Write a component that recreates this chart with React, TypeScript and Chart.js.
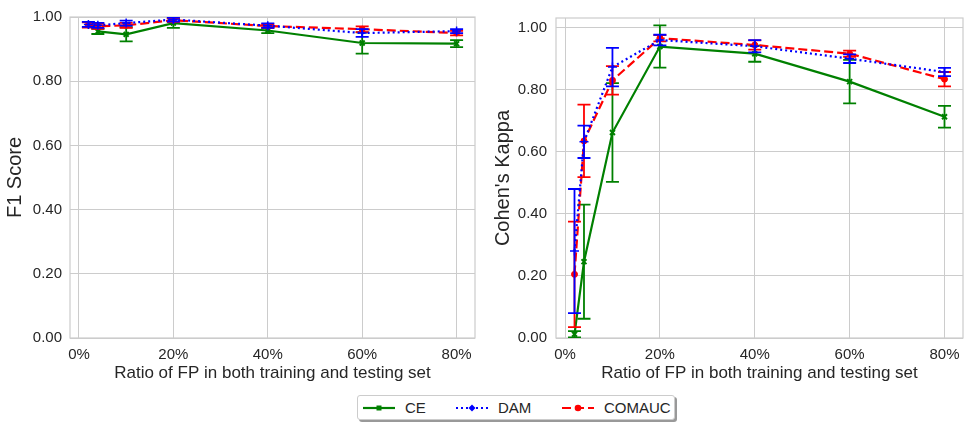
import React, { useEffect, useRef } from 'react';
import { Chart, registerables } from 'chart.js';

Chart.register(...registerables);

// ---------- data ----------
const ratioF1 = [2, 4, 10, 20, 40, 60, 80];
const f1CE = [null, 0.955, 0.946, 0.981, 0.958, 0.919, 0.917];
const f1CEErr = [null, 0.008, 0.022, 0.015, 0.008, 0.033, 0.011];
const f1DAM = [0.977, 0.974, 0.981, 0.992, 0.973, 0.95, 0.956];
const f1DAMErr = [0.008, 0.008, 0.008, 0.006, 0.007, 0.012, 0.006];
const f1COMAUC = [0.975, 0.971, 0.974, 0.99, 0.972, 0.962, 0.95];
const f1COMAUCErr = [0.008, 0.008, 0.008, 0.006, 0.006, 0.009, 0.007];

const ratioKappa = [2, 4, 10, 20, 40, 60, 80];
const kCE = [0.012, 0.246, 0.662, 0.939, 0.916, 0.826, 0.713];
const kCEErr = [0.01, 0.184, 0.159, 0.068, 0.026, 0.07, 0.035];
const kDAM = [0.28, 0.632, 0.873, 0.96, 0.94, 0.9, 0.857];
const kDAMErr = [0.2, 0.052, 0.062, 0.017, 0.02, 0.014, 0.013];
const kCOMAUC = [0.205, 0.635, 0.83, 0.966, 0.944, 0.916, 0.834];
const kCOMAUCErr = [0.17, 0.117, 0.046, 0.01, 0.015, 0.01, 0.023];

const xTicks = [0, 20, 40, 60, 80];
const yTicks = [0, 0.2, 0.4, 0.6, 0.8, 1.0];
const seriesNames = ['CE', 'DAM', 'COMAUC'];

const FONT = "'Liberation Sans', Arial, sans-serif";
const TEXT = '#262626';
const GRID = '#cccccc';
const GREEN = '#008000';
const BLUE = '#0000ff';
const RED = '#ff0000';

const errorBarPlugin = {
  id: 'errorBars',
  beforeDatasetDraw(chart: any, args: any) {
    const ds: any = chart.data.datasets[args.index];
    const errs = ds.errors;
    if (!errs) return;
    const xs = chart.scales.x;
    const ys = chart.scales.y;
    const ctx = chart.ctx;
    const a = chart.chartArea;
    ctx.save();
    ctx.beginPath();
    ctx.rect(a.left, a.top, a.right - a.left, a.bottom - a.top);
    ctx.clip();
    ctx.strokeStyle = ds.borderColor;
    ctx.lineWidth = 1.8;
    ctx.setLineDash([]);
    ds.data.forEach((p: any, i: number) => {
      if (p.y == null || errs[i] == null) return;
      const px = xs.getPixelForValue(p.x);
      const top = ys.getPixelForValue(p.y + errs[i]);
      const bot = ys.getPixelForValue(p.y - errs[i]);
      ctx.beginPath();
      ctx.moveTo(px, top);
      ctx.lineTo(px, bot);
      ctx.moveTo(px - 6.5, top);
      ctx.lineTo(px + 6.5, top);
      ctx.moveTo(px - 6.5, bot);
      ctx.lineTo(px + 6.5, bot);
      ctx.stroke();
    });
    ctx.restore();
  },
};

const framePlugin = {
  id: 'frame',
  beforeDatasetsDraw(chart: any) {
    const a = chart.chartArea;
    const ctx = chart.ctx;
    ctx.save();
    ctx.strokeStyle = GRID;
    ctx.lineWidth = 1.2;
    ctx.strokeRect(a.left, a.top, a.right - a.left, a.bottom - a.top);
    ctx.restore();
  },
};

function toPoints(xs: number[], ys: (number | null)[]) {
  return xs.map((x, i) => ({ x, y: ys[i] }));
}

function makeDatasets(xs: number[], ce: any[], ceE: any[], dam: any[], damE: any[], com: any[], comE: any[]) {
  return [
    {
      label: seriesNames[1],
      data: toPoints(xs, dam),
      errors: damE,
      borderColor: BLUE,
      backgroundColor: BLUE,
      borderWidth: 2.2,
      borderDash: [2, 3],
      pointStyle: 'cross',
      pointRadius: 4.5,
      pointBorderWidth: 1.5,
      pointBackgroundColor: BLUE,
      pointBorderColor: BLUE,
      order: 0,
    },
    {
      label: seriesNames[2],
      data: toPoints(xs, com),
      errors: comE,
      borderColor: RED,
      backgroundColor: RED,
      borderWidth: 2.2,
      borderDash: [9, 4],
      pointStyle: 'circle',
      pointRadius: 3,
      pointBorderWidth: 1,
      pointBackgroundColor: RED,
      pointBorderColor: RED,
      order: 1,
    },
    {
      label: seriesNames[0],
      data: toPoints(xs, ce),
      errors: ceE,
      borderColor: GREEN,
      backgroundColor: GREEN,
      borderWidth: 2.2,
      borderDash: [],
      pointStyle: 'crossRot',
      pointRadius: 3.5,
      pointBorderWidth: 2,
      pointBackgroundColor: GREEN,
      pointBorderColor: GREEN,
      order: 2,
    },
  ];
}

function makeConfig(datasets: any[], yTitle: string, yMax: number, yAxisWidth: number, titlePad: number, tickPad: number, padRight: number) {
  return {
    type: 'line',
    data: { datasets },
    plugins: [framePlugin, errorBarPlugin],
    options: {
      animation: false,
      responsive: false,
      devicePixelRatio: 1,
      layout: { padding: { top: 13, right: padRight, left: 0, bottom: 0 } },
      plugins: { legend: { display: false }, tooltip: { enabled: false } },
      elements: { line: { tension: 0, fill: false } },
      scales: {
        x: {
          type: 'linear',
          min: -1.9,
          max: 83.9,
          afterBuildTicks: (s: any) => {
            s.ticks = xTicks.map((v) => ({ value: v }));
          },
          afterFit: (s: any) => {
            s.height = 47;
          },
          grid: { color: GRID, lineWidth: 1, drawTicks: false },
          border: { display: false },
          ticks: {
            color: TEXT,
            padding: 8,
            font: { family: FONT, size: 15 },
            callback: (v: any) => `${v}%`,
            maxRotation: 0,
          },
          title: {
            display: true,
            text: 'Ratio of FP in both training and testing set',
            color: TEXT,
            font: { family: FONT, size: 17 },
            padding: { top: 0, bottom: 1 },
          },
        },
        y: {
          type: 'linear',
          min: 0,
          max: yMax,
          afterBuildTicks: (s: any) => {
            s.ticks = yTicks.map((v) => ({ value: v }));
          },
          afterFit: (s: any) => {
            s.width = yAxisWidth;
          },
          grid: { color: GRID, lineWidth: 1, drawTicks: false },
          border: { display: false },
          ticks: {
            color: TEXT,
            padding: tickPad,
            font: { family: FONT, size: 15 },
            callback: (v: any) => Number(v).toFixed(2),
          },
          title: {
            display: true,
            text: yTitle,
            color: TEXT,
            font: { family: FONT, size: 20 },
            padding: { top: titlePad, bottom: 0 },
          },
        },
      },
    },
  };
}

function ChartCanvas({ config, width, height, left }: any) {
  const ref = useRef<HTMLCanvasElement | null>(null);
  useEffect(() => {
    if (!ref.current) return;
    const chart = new Chart(ref.current, config as any);
    return () => chart.destroy();
  }, []);
  return (
    <canvas
      ref={ref}
      width={width}
      height={height}
      style={{ position: 'absolute', left, top: 0, width, height }}
    />
  );
}

function LegendSample({ color, dash, marker }: { color: string; dash: string; marker: string }) {
  return (
    <svg width={32} height={12} style={{ display: 'block' }}>
      <line x1={0} y1={6} x2={32} y2={6} stroke={color} strokeWidth={2.2} strokeDasharray={dash} />
      {marker === 'x' && <rect x={13.5} y={3.5} width={5} height={5} fill={color} />}
      {marker === '+' && <polygon points="16,2.5 19.5,6 16,9.5 12.5,6" fill={color} />}
      {marker === 'o' && <circle cx={16} cy={6} r={3.3} fill={color} />}
    </svg>
  );
}

export default function App() {
  useEffect(() => {
    document.body.style.margin = '0';
  }, []);

  const leftCfg = makeConfig(
    makeDatasets(ratioF1, f1CE, f1CEErr, f1DAM, f1DAMErr, f1COMAUC, f1COMAUCErr),
    'F1 Score',
    1.0,
    70,
    3,
    8,
    10
  );
  const rightCfg = makeConfig(
    makeDatasets(ratioKappa, kCE, kCEErr, kDAM, kDAMErr, kCOMAUC, kCOMAUCErr),
    "Cohen's Kappa",
    1.031,
    71,
    6,
    9,
    2
  );

  const items = [
    { name: seriesNames[0], color: GREEN, dash: '', marker: 'x', sx: 5, tx: 47 },
    { name: seriesNames[1], color: BLUE, dash: '2 3', marker: '+', sx: 98, tx: 140 },
    { name: seriesNames[2], color: RED, dash: '9 4', marker: 'o', sx: 204, tx: 246 },
  ];

  return (
    <div style={{ position: 'absolute', left: 0, top: 0, width: 969, height: 428, background: '#fff', overflow: 'hidden' }}>
      <ChartCanvas config={leftCfg} width={485} height={385} left={0} />
      <ChartCanvas config={rightCfg} width={484} height={385} left={485} />
      <div
        style={{
          position: 'absolute',
          left: 357,
          top: 395,
          width: 318,
          height: 25,
          boxSizing: 'border-box',
          border: '1px solid #cccccc',
          borderRadius: 3,
          background: '#fff',
          boxShadow: '2px 2px 0px #999999',
          fontFamily: FONT,
          fontSize: 15,
          color: TEXT,
        }}
      >
        {items.map((it) => (
          <React.Fragment key={it.name}>
            <div style={{ position: 'absolute', left: it.sx, top: 6 }}>
              <LegendSample color={it.color} dash={it.dash} marker={it.marker} />
            </div>
            <div style={{ position: 'absolute', left: it.tx, top: 2, lineHeight: '19px', whiteSpace: 'nowrap' }}>
              {it.name}
            </div>
          </React.Fragment>
        ))}
      </div>
    </div>
  );
}
